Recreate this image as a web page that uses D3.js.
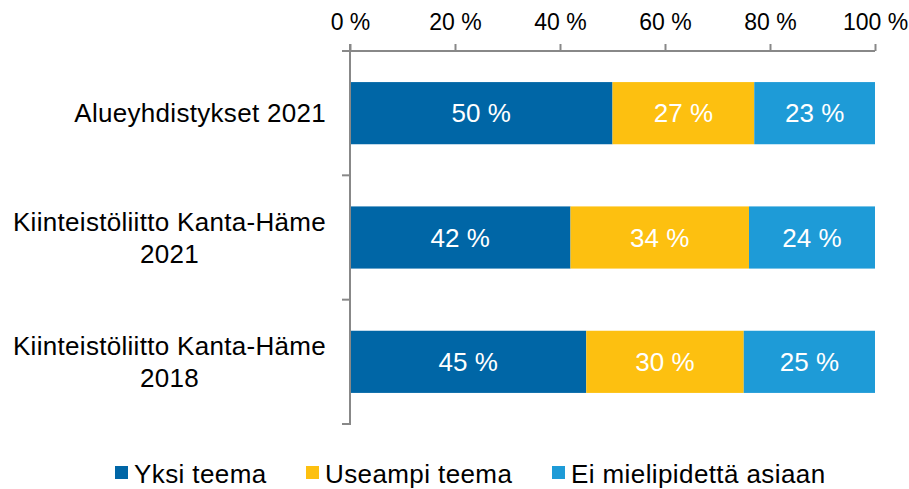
<!DOCTYPE html>
<html>
<head>
<meta charset="utf-8">
<script src="https://cdn.jsdelivr.net/npm/d3@7"></script>
<style>
  body { margin: 0; background: #fff; }
  text { font-family: "Liberation Sans", Arial, sans-serif; }
</style>
</head>
<body>
<svg id="chart" width="909" height="489"></svg>
<script>
// data
const categories = ["Alueyhdistykset 2021", "Kiinteistöliitto Kanta-Häme 2021", "Kiinteistöliitto Kanta-Häme 2018"];
const categoryLines = [["Alueyhdistykset 2021"], ["Kiinteistöliitto Kanta-Häme", "2021"], ["Kiinteistöliitto Kanta-Häme", "2018"]];
const seriesNames = ["Yksi teema", "Useampi teema", "Ei mielipidettä asiaan"];
const yksi = [50, 42, 45];
const useampi = [27, 34, 30];
const eiMielipidetta = [23, 24, 25];
const tickValues = [0, 20, 40, 60, 80, 100];
const colors = ["#0066a6", "#fdc010", "#1e9bd7"];

const svg = d3.select("#chart");
const x = d3.scaleLinear().domain([0, 100]).range([350, 875]);
const y = d3.scaleBand().domain(categories).range([51, 424]).paddingInner(0.5).paddingOuter(0.25);

// stack the series
const rows = categories.map((c, i) => ({cat: c, v: [yksi[i], useampi[i], eiMielipidetta[i]]}));
rows.forEach(r => {
  let acc = 0;
  r.segs = r.v.map((v, k) => { const s = {cat: r.cat, x0: acc, x1: acc + v, v: v, k: k}; acc += v; return s; });
});

const g = svg.selectAll("g.row").data(rows).enter().append("g").attr("class", "row");
g.selectAll("rect").data(d => d.segs).enter().append("rect")
  .attr("x", d => x(d.x0))
  .attr("y", d => y(d.cat))
  .attr("width", d => x(d.x1) - x(d.x0))
  .attr("height", y.bandwidth())
  .attr("fill", d => colors[d.k]);
g.selectAll("text.val").data(d => d.segs).enter().append("text")
  .attr("class", "val")
  .attr("x", d => (x(d.x0) + x(d.x1)) / 2)
  .attr("y", d => y(d.cat) + y.bandwidth() / 2 + 9)
  .attr("text-anchor", "middle")
  .attr("font-size", 26)
  .attr("fill", "#fff")
  .text(d => d.v + " %");

// top axis
const xAxis = svg.append("g").attr("transform", "translate(0,51)")
  .call(d3.axisTop(x).tickValues(tickValues).tickFormat(d => d + " %").tickSize(7).tickSizeOuter(7));
xAxis.select(".domain").attr("stroke", "#888").attr("stroke-width", 2).attr("d", "M342,0H875");
xAxis.selectAll(".tick line").attr("stroke", "#888").attr("stroke-width", 2);
xAxis.selectAll(".tick text").attr("font-size", 23).attr("fill", "#000").attr("y", -21).attr("dy", 0)
  .attr("font-family", "Liberation Sans, Arial, sans-serif");

// left axis line with band-edge ticks
const yl = svg.append("g");
yl.append("line").attr("x1", 350).attr("x2", 350).attr("y1", 44).attr("y2", 425)
  .attr("stroke", "#888").attr("stroke-width", 2);
const edgeYs = categories.map(c => y(c) - y.step() * 0.25).concat([y(categories[categories.length - 1]) + y.bandwidth() + y.step() * 0.25]);
yl.selectAll("line.t").data(edgeYs.slice(1)).enter().append("line").attr("class", "t")
  .attr("x1", 342).attr("x2", 350).attr("y1", d => d).attr("y2", d => d)
  .attr("stroke", "#888").attr("stroke-width", 2);

// category labels, block right-aligned, lines centered
categoryLines.forEach((lines, i) => {
  const cy = y(categories[i]) + y.bandwidth() / 2;
  const lh = 32;
  const t = svg.append("g");
  const texts = lines.map((l, j) => t.append("text")
    .attr("font-size", 26).attr("letter-spacing", 0.3).attr("fill", "#000")
    .attr("y", cy + 9 + (j - (lines.length - 1) / 2) * lh)
    .text(l));
  const widths = texts.map(tx => tx.node().getComputedTextLength());
  const center = 326 - d3.max(widths) / 2;
  texts.forEach(tx => tx.attr("x", center).attr("text-anchor", "middle"));
});

// legend
const legendX = [115, 306, 552];
const lg = svg.selectAll("g.leg").data(seriesNames).enter().append("g").attr("class", "leg")
  .attr("transform", (d, i) => `translate(${legendX[i]},466)`);
lg.append("rect").attr("width", 13).attr("height", 13).attr("fill", (d, i) => colors[i]);
lg.append("text").attr("x", 19).attr("y", 17).attr("font-size", 26).attr("letter-spacing", 0.4)
  .attr("fill", "#000").text(d => d);
</script>
</body>
</html>
